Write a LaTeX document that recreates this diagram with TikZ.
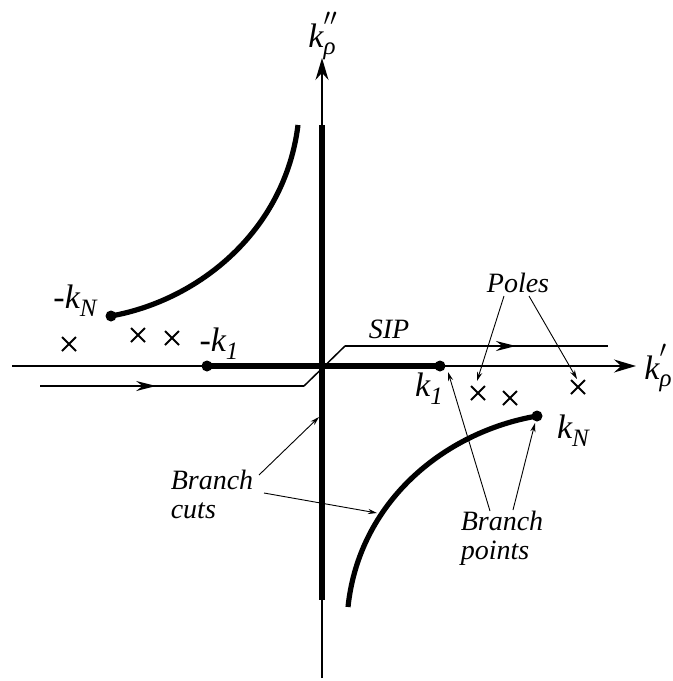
\documentclass[tikz,border=0pt]{standalone}
\usepackage{fontspec}
\setmainfont{Liberation Serif}
\usetikzlibrary{arrows.meta,decorations.markings,calc}
\newcommand{\labfont}{\fontsize{14pt}{14.5pt}\selectfont\itshape}
\newcommand{\kfont}{\fontsize{17pt}{18pt}\selectfont\itshape}
\newcommand{\subf}[1]{\raisebox{-0.5ex}{\fontsize{12.5pt}{13pt}\selectfont #1}}
\tikzset{
  axis/.style={line width=0.75pt,-{Stealth[length=11pt,width=6.5pt]}},
  cut/.style={line width=2.6pt},
  contour/.style={line width=0.75pt},
  note/.style={line width=0.45pt,-{Stealth[length=4.5pt,width=2.6pt]}},
  dot/.style={circle,fill=black,inner sep=0pt,minimum size=5.5pt},
  pole/.style={line width=1pt},
  lab/.style={font=\labfont,inner sep=0pt},
  klab/.style={font=\kfont,inner sep=0pt},
  midarrow/.style={postaction={decorate},decoration={markings,
     mark=at position #1 with {\arrow{Stealth[length=10pt,width=5pt]}}}}
}
\newcommand{\polemark}[1]{\draw[pole] ($(#1)+(-7,-7)$) -- ($(#1)+(7,7)$) ($(#1)+(-7,7)$) -- ($(#1)+(7,-7)$);}
\begin{document}
\begin{tikzpicture}[x=0.5pt,y=-0.5pt]
\useasboundingbox (0,0) rectangle (673,681);
% axes
\coordinate (xl) at (12,366);
\coordinate (xr) at (636,366);
\coordinate (yb) at (322,678);
\coordinate (yt) at (322,58);
\draw[axis] (xl) -- (xr);
\draw[axis] (yb) -- (yt);
% vertical cut
\coordinate (vct) at (322,125);
\coordinate (vcb) at (322,600);
\draw[cut] (vct) -- (vcb);
% branch points
\node[dot] (mk1) at (207,366) {};
\node[dot] (k1) at (440,366) {};
\node[dot] (mkN) at (111,316) {};
\node[dot] (kN) at (537,416) {};
\coordinate (o) at (322,366);
% horizontal cuts
\draw[cut] (mk1.center) -- (o) -- (k1.center);
% hyperbolic cuts
\coordinate (lt) at (298,125);
\coordinate (rb) at (348,607);
\draw[cut] (mkN.center) .. controls (200,300) and (285,230) .. (lt);
\draw[cut] (kN.center) .. controls (444,432) and (359,502) .. (rb);
% SIP contour
\coordinate (c1) at (40,386);
\coordinate (c2) at (304,386);
\coordinate (c3) at (345,346);
\coordinate (c4) at (608,346);
\draw[contour,midarrow=0.44] (c1) -- (c2);
\draw[contour] (c2) -- (c3);
\draw[contour,midarrow=0.65] (c3) -- (c4);
% poles
\coordinate (p1) at (69,344);
\coordinate (p2) at (138,335);
\coordinate (p3) at (172,338);
\coordinate (p4) at (478,393);
\coordinate (p5) at (510,398);
\coordinate (p6) at (578,387);
\foreach \p in {p1,p2,p3,p4,p5,p6} {\polemark{\p}}
% labels
\node[klab] (lkx) at (658,368) {k\rlap{\raisebox{0.6ex}{$'$}}\subf{ρ}};
\node[klab] (lky) at (322,36) {k\rlap{\raisebox{0.6ex}{$''$}}\subf{ρ}};
\node[klab] (lmk1) at (219,344) {-k\subf{1}};
\node[klab] (lk1) at (429,389) {k\subf{1}};
\node[klab] (lmkN) at (75,301) {-k\subf{N}};
\node[klab] (lkN) at (573,431) {k\subf{N}};
\node[lab] (sip) at (389,329) {SIP};
\node[lab] (poles) at (518,283) {Poles};
\node[lab,align=left] (bcuts) at (212,494) {Branch\\cuts};
\node[lab,align=left] (bpts) at (502,538) {Branch\\points};
% annotation arrows
\coordinate (pa1) at (504,296);
\coordinate (pa2) at (529,296);
\draw[note] (pa1) -- (477,381);
\draw[note] (pa2) -- (577,379);
\coordinate (ba1) at (259,475);
\coordinate (ba2) at (264,493);
\draw[note] (ba1) -- (319,417);
\draw[note] (ba2) -- (377,513);
\coordinate (bp1) at (490,511);
\coordinate (bp2) at (513,510);
\draw[note] (bp1) -- (448,372);
\draw[note] (bp2) -- (535,423);
\end{tikzpicture}
\end{document}
